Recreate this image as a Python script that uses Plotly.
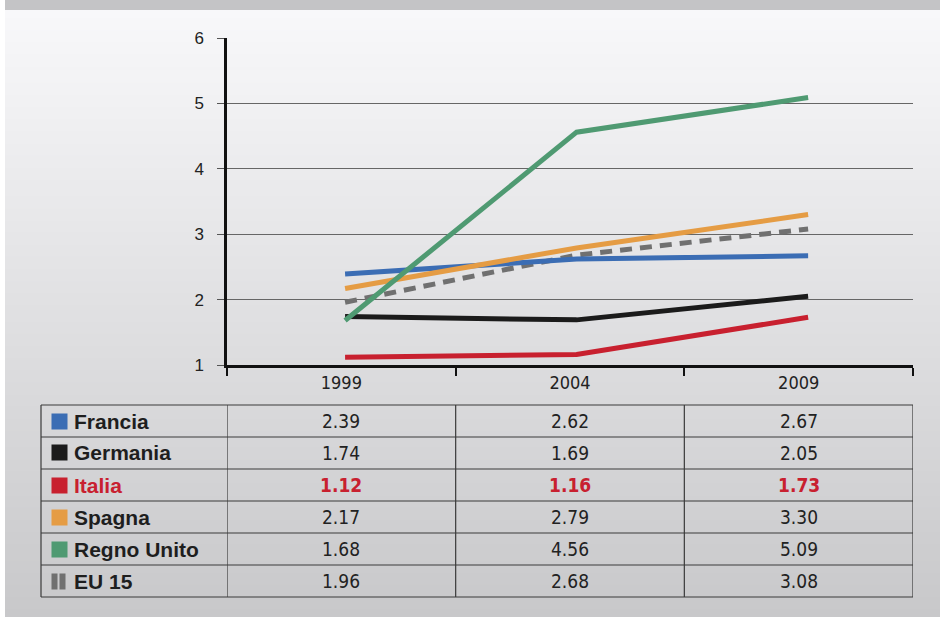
import plotly.graph_objects as go

years = ["1999", "2004", "2009"]
y_ticks = [1, 2, 3, 4, 5, 6]

countries = ["Francia", "Germania", "Italia", "Spagna", "Regno Unito", "EU 15"]
francia = [2.39, 2.62, 2.67]
germania = [1.74, 1.69, 2.05]
italia = [1.12, 1.16, 1.73]
spagna = [2.17, 2.79, 3.30]
regno_unito = [1.68, 4.56, 5.09]
eu15 = [1.96, 2.68, 3.08]

series = [francia, germania, italia, spagna, regno_unito, eu15]
colors = ["#3b6db4", "#1b1b1b", "#c8202f", "#e59c44", "#4f9a72", "#707070"]
dashes = ["solid", "solid", "solid", "solid", "solid", "12px,8px"]

W, H = 940, 617
L, R, T, B = 227, 27, 38, 252  # plot area = axes box


def px(x):
    return (x - L) / (W - L - R)


def py(y):
    return (H - B - y) / (H - T - B)


NARROW = "Liberation Sans Narrow, DejaVu Sans Condensed, Arial Narrow, sans-serif"
SANS = "Liberation Sans, Arial, Helvetica, sans-serif"
RED = "#c8202f"

fig = go.Figure()

# invisible trace so the visible category axis knows its categories
fig.add_trace(go.Scatter(x=years, y=[1] * len(years), mode="markers",
                         marker=dict(opacity=0), showlegend=False, hoverinfo="skip"))

# lines sit on their own (hidden) x axis, slightly offset like the original
order = [5, 0, 1, 2, 3, 4]
for i in order:
    fig.add_trace(go.Scatter(
        x=years, y=series[i], mode="lines", name=countries[i], xaxis="x2",
        line=dict(color=colors[i], width=5, dash=dashes[i]),
        showlegend=False, hoverinfo="skip",
    ))

shapes = []
# background panel with vertical gradient
n = 150
top, bot = 10, H
for k in range(n):
    y0 = top + (bot - top) * k / n
    y1 = top + (bot - top) * (k + 1) / n + 1
    t = k / (n - 1)
    g = int(round(248 - (248 - 200) * t))
    shapes.append(dict(type="rect", xref="paper", yref="paper", layer="below",
                       x0=px(5), x1=px(W), y0=py(y1), y1=py(y0),
                       fillcolor=f"rgb({g},{g},{g + 2})", line=dict(width=0)))
shapes.append(dict(type="rect", xref="paper", yref="paper", layer="below",
                   x0=px(5), x1=px(W), y0=py(10), y1=py(0),
                   fillcolor="#c4c4c6", line=dict(width=0)))
shapes.append(dict(type="rect", xref="paper", yref="paper", layer="below",
                   x0=px(0), x1=px(5), y0=py(H), y1=py(0),
                   fillcolor="#ffffff", line=dict(width=0)))

# table grid
row_top, row_h = 405, 32
n_rows = len(countries)
LINE = dict(color="#3a3a3a", width=1.2)
for r in range(n_rows + 1):
    yy = py(row_top + r * row_h)
    shapes.append(dict(type="line", xref="paper", yref="paper",
                       x0=px(41), x1=1, y0=yy, y1=yy, line=LINE))
y_tab0, y_tab1 = py(row_top), py(row_top + n_rows * row_h)
shapes.append(dict(type="line", xref="paper", yref="paper",
                   x0=px(41), x1=px(41), y0=y_tab0, y1=y_tab1, line=LINE))
for b in [-0.5, 0.5, 1.5, 2.5]:
    shapes.append(dict(type="line", xref="x", yref="paper",
                       x0=b, x1=b, y0=y_tab0, y1=y_tab1, line=LINE))

annotations = []
for r, (name, c, vals) in enumerate(zip(countries, colors, series)):
    yc = py(row_top + r * row_h + row_h / 2)
    is_it = name == "Italia"
    # legend key
    if name == "EU 15":
        for xk in (51, 59):
            annotations.append(dict(xref="paper", yref="paper", x=px(xk), y=yc,
                                    xanchor="left", yanchor="middle", text=" ",
                                    width=5, height=15, bgcolor=c, showarrow=False,
                                    borderpad=0, font=dict(size=2)))
    else:
        annotations.append(dict(xref="paper", yref="paper", x=px(51), y=yc,
                                xanchor="left", yanchor="middle", text=" ",
                                width=15, height=15, bgcolor=c, showarrow=False,
                                borderpad=0, font=dict(size=2)))
    annotations.append(dict(xref="paper", yref="paper", x=px(72), y=yc,
                            xanchor="left", yanchor="middle", showarrow=False,
                            text=f"<b>{name}</b>",
                            font=dict(family=SANS, size=21,
                                      color=RED if is_it else "#1e1e1e")))
    for j in range(len(years)):
        v = f"{vals[j]:.2f}"
        annotations.append(dict(xref="x", yref="paper", x=j, y=yc,
                                xanchor="center", yanchor="middle", showarrow=False,
                                text=f"<b>{v}</b>" if is_it else v,
                                font=dict(family=NARROW, size=19,
                                          color=RED if is_it else "#222222")))

fig.update_layout(
    width=W, height=H,
    margin=dict(l=L, r=R, t=T, b=B, pad=0),
    paper_bgcolor="#c8c8c8",
    plot_bgcolor="rgba(0,0,0,0)",
    shapes=shapes,
    annotations=annotations,
    xaxis=dict(
        type="category", range=[-0.5, 2.5],
        categoryorder="array", categoryarray=years,
        showline=True, linecolor="#111111", linewidth=2.5,
        ticks="outside", tickson="boundaries", ticklen=8, tickwidth=2, tickcolor="#111111",
        showgrid=False, zeroline=False,
        tickfont=dict(family=NARROW, size=18, color="#222222"),
    ),
    xaxis2=dict(
        type="category", range=[-0.51, 2.453], overlaying="x",
        visible=False, showgrid=False, zeroline=False,
    ),
    yaxis=dict(
        range=[1, 6], tickvals=y_ticks,
        showline=True, linecolor="#111111", linewidth=2.5,
        ticks="outside", ticklen=7, tickwidth=1, tickcolor="#555555",
        showgrid=True, gridcolor="#666666", gridwidth=1,
        zeroline=False, ticklabelstandoff=10,
        tickfont=dict(family=SANS, size=17, color="#222222"),
    ),
)

fig.write_html("out.html",
               config={"displayModeBar": False},
               post_script="document.body.style.margin='0';"
                           "document.body.style.overflow='hidden';")
